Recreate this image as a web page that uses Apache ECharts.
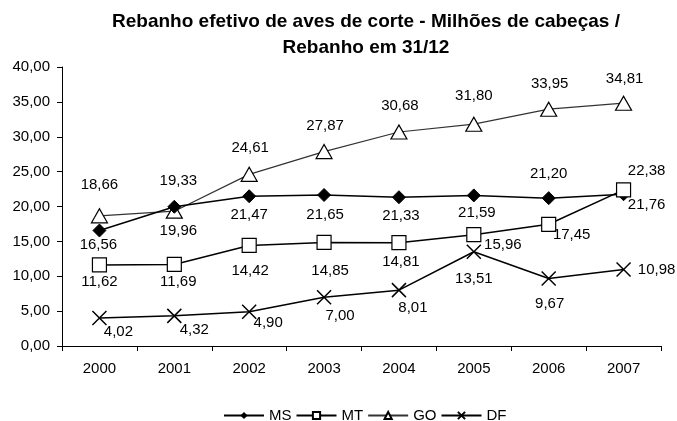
<!DOCTYPE html>
<html>
<head>
<meta charset="utf-8">
<script src="https://cdn.jsdelivr.net/npm/echarts@6/dist/echarts.min.js"></script>
<style>
  html, body { margin: 0; padding: 0; background: #fff; }
  #chart { width: 677px; height: 421px; }
</style>
</head>
<body>
<div id="chart"></div>
<script>
var years = ['2000', '2001', '2002', '2003', '2004', '2005', '2006', '2007'];
var ms = [16.56, 19.96, 21.47, 21.65, 21.33, 21.59, 21.20, 21.76];
var mt = [11.62, 11.69, 14.42, 14.85, 14.81, 15.96, 17.45, 22.38];
var go = [18.66, 19.33, 24.61, 27.87, 30.68, 31.80, 33.95, 34.81];
var df = [4.02, 4.32, 4.90, 7.00, 8.01, 13.51, 9.67, 10.98];

// deslocamento dos rótulos (px) em relação ao ponto
var msOffsets = [[-1, 14], [4, 24], [0, 19], [1, 20], [2, 19], [3, 17], [0, -24], [23, 11]];
var mtOffsets = [[0, 17], [4, 17], [1, 25], [6, 28], [2, 19], [29, 10], [23, 11], [23, -19]];
var goOffsets = [[0, -31], [4, -30], [1, -26], [1, -26], [1, -26], [0, -28], [1, -25], [1, -24]];
var dfOffsets = [[19, 14], [20, 14], [19, 11], [16, 19], [14, 18], [0, 27], [1, 25], [33, 0]];

function fmt(v) {
    return v.toFixed(2).replace('.', ',');
}

function points(values, offsets) {
    return values.map(function (v, i) {
        return {
            value: v,
            label: { position: 'inside', offset: offsets[i] }
        };
    });
}

var font = 'Arial, "Liberation Sans", sans-serif';
var labelStyle = {
    show: true,
    color: '#000',
    fontSize: 15,
    fontFamily: font,
    align: 'center',
    verticalAlign: 'middle',
    formatter: function (p) { return fmt(p.value); }
};

var chart = echarts.init(document.getElementById('chart'), null, { renderer: 'canvas' });

var option = {
    animation: false,
    backgroundColor: '#fff',
    title: {
        text: 'Rebanho efetivo de aves de corte - Milhões de cabeças /\nRebanho em 31/12',
        left: 361,
        top: 4,
        textAlign: 'center',
        textStyle: {
            fontSize: 19,
            fontWeight: 'bold',
            fontFamily: font,
            color: '#000',
            lineHeight: 26
        }
    },
    legend: {
        top: 403,
        left: 218,
        itemWidth: 40,
        itemHeight: 9,
        itemGap: 4,
        textStyle: { fontSize: 15, fontFamily: font, color: '#000' },
        data: ['MS', 'MT', 'GO', 'DF']
    },
    grid: {
        left: 62,
        right: 16,
        top: 67,
        bottom: 75
    },
    xAxis: {
        type: 'category',
        data: years,
        boundaryGap: true,
        axisLine: { lineStyle: { color: '#000', width: 1 } },
        axisTick: { show: true, length: 5, lineStyle: { color: '#000' } },
        axisLabel: { color: '#000', fontSize: 15, fontFamily: font, margin: 15 }
    },
    yAxis: {
        type: 'value',
        min: 0,
        max: 40,
        interval: 5,
        axisLine: { show: true, lineStyle: { color: '#000', width: 1 } },
        axisTick: { show: true, length: 5, lineStyle: { color: '#000' } },
        splitLine: { show: false },
        axisLabel: {
            color: '#000', fontSize: 15, fontFamily: font, margin: 12,
            formatter: function (v) { return fmt(v); }
        }
    },
    series: [
        {
            name: 'MS',
            type: 'line',
            data: points(ms, msOffsets),
            symbol: 'diamond',
            symbolSize: 13,
            lineStyle: { color: '#000', width: 1.5 },
            itemStyle: { color: '#000', borderColor: '#000' },
            label: labelStyle,
            z: 3
        },
        {
            name: 'MT',
            type: 'line',
            data: points(mt, mtOffsets),
            symbol: 'rect',
            symbolSize: 14,
            lineStyle: { color: '#000', width: 1.5 },
            itemStyle: { color: '#fff', borderColor: '#000', borderWidth: 1.2 },
            label: labelStyle,
            z: 4
        },
        {
            name: 'GO',
            type: 'line',
            data: points(go, goOffsets),
            symbol: 'triangle',
            symbolSize: [16, 14],
            lineStyle: { color: '#333', width: 1.2 },
            itemStyle: { color: '#fff', borderColor: '#000', borderWidth: 1.2 },
            label: labelStyle,
            z: 2
        },
        {
            name: 'DF',
            type: 'line',
            data: points(df, dfOffsets),
            symbol: 'path://M0,0L10,10M10,0L0,10',
            symbolSize: 14,
            lineStyle: { color: '#000', width: 1.5 },
            itemStyle: { color: 'none', borderColor: '#000', borderWidth: 1.5 },
            label: labelStyle,
            z: 3
        }
    ]
};

chart.setOption(option);
</script>
</body>
</html>
